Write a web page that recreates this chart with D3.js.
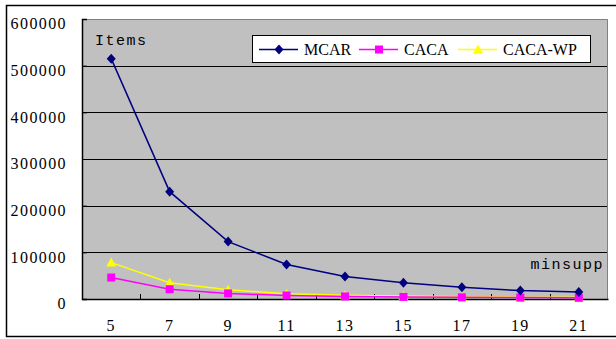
<!DOCTYPE html>
<html>
<head>
<meta charset="utf-8">
<script src="https://cdn.jsdelivr.net/npm/d3@7"></script>
<style>
  body { margin: 0; background: #fff; }
</style>
</head>
<body>
<div id="chart"></div>
<script>
// chart data
const minsupp = ['5', '7', '9', '11', '13', '15', '17', '19', '21'];
const mcar = [515000, 230000, 123000, 74000, 48000, 35000, 25000, 18000, 15000];
const caca = [46000, 21000, 12000, 7500, 5500, 4500, 3500, 3000, 2500];
const cacaWp = [78000, 35000, 20000, 11000, 8000, 6500, 5000, 4000, 3500];
const yTicks = [0, 100000, 200000, 300000, 400000, 500000, 600000];

const SERIES = [
  { name: 'MCAR', values: mcar, color: '#000080', marker: 'diamond' },
  { name: 'CACA', values: caca, color: '#FF00FF', marker: 'square' },
  { name: 'CACA-WP', values: cacaWp, color: '#FFFF00', marker: 'triangle' },
];

const W = 616, H = 339;
const MARGIN = { top: 19, right: 8, bottom: 40, left: 82 };
const innerW = W - MARGIN.left - MARGIN.right;
const innerH = H - MARGIN.top - MARGIN.bottom;
const FONT = '16px';
const FAMILY = '"Liberation Serif", "Times New Roman", serif';
const MONO = '"Liberation Mono", "Courier New", monospace';

const svg = d3.select('#chart').append('svg')
  .attr('width', W).attr('height', H).style('display', 'block')
  .attr('font-family', FAMILY);

// outer frame (right edge falls outside the picture)
svg.append('rect')
  .attr('x', 6.5).attr('y', 5.5).attr('width', 620).attr('height', 331)
  .attr('fill', '#fff').attr('stroke', '#000').attr('stroke-width', 1.5);

const g = svg.append('g').attr('transform', `translate(${MARGIN.left},${MARGIN.top})`);

const x = d3.scaleBand().domain(minsupp).range([0, innerW]).padding(0);
const y = d3.scaleLinear().domain([0, 600000]).range([innerH, 0]);
const cx = d => x(d) + x.bandwidth() / 2;

g.append('rect').attr('width', innerW).attr('height', innerH).attr('fill', '#C0C0C0');

// gridlines
g.append('g').selectAll('line').data(yTicks.slice(1, -1)).join('line')
  .attr('x1', 0).attr('x2', innerW)
  .attr('y1', d => Math.round(y(d)) + 0.5).attr('y2', d => Math.round(y(d)) + 0.5)
  .attr('stroke', '#000').attr('stroke-width', 1);

// top/right plot border
g.append('path')
  .attr('d', `M0,0.5H${innerW - 0.5}V${innerH}`)
  .attr('fill', 'none').attr('stroke', '#808080');

// y axis
const yAxis = g.append('g')
  .call(d3.axisLeft(y).tickValues(yTicks).tickSize(-5).tickPadding(15).tickFormat(d3.format('d')));
yAxis.attr('font-family', FAMILY);
yAxis.select('.domain').attr('stroke', '#000').attr('stroke-width', 1.5);
yAxis.selectAll('text').attr('font-size', FONT).attr('fill', '#000')
  .attr('letter-spacing', '1.4px').attr('dy', '0.62em');
yAxis.selectAll('.tick line').attr('stroke', '#000');

// x axis: labels at band centres, ticks at band boundaries
const xAxis = g.append('g').attr('transform', `translate(0,${innerH})`)
  .call(d3.axisBottom(x).tickSize(0).tickPadding(21));
xAxis.attr('font-family', FAMILY);
xAxis.select('.domain').attr('stroke', '#000').attr('stroke-width', 1.5);
xAxis.selectAll('text').attr('font-size', FONT).attr('fill', '#000').attr('letter-spacing', '1.4px');
g.append('g').selectAll('line').data(minsupp.slice(1)).join('line')
  .attr('x1', d => Math.round(x(d)) + 0.5).attr('x2', d => Math.round(x(d)) + 0.5)
  .attr('y1', innerH).attr('y2', innerH - 5)
  .attr('stroke', '#000');

// axis titles inside the plot
g.append('text').attr('x', 13).attr('y', 26).attr('font-family', MONO)
  .attr('font-size', '15px').attr('letter-spacing', '1.5px').text('Items');
g.append('text').attr('x', innerW - 4).attr('y', 250).attr('text-anchor', 'end')
  .attr('font-family', MONO).attr('font-size', '15px').attr('letter-spacing', '1.5px').text('minsupp');

function marker(sel, type, color) {
  if (type === 'diamond') {
    sel.append('path').attr('d', 'M0,-5L4.5,0L0,5L-4.5,0Z').attr('fill', color);
  } else if (type === 'square') {
    sel.append('rect').attr('x', -4).attr('y', -4).attr('width', 8).attr('height', 8).attr('fill', color);
  } else {
    sel.append('path').attr('d', 'M0,-5L5,4L-5,4Z').attr('fill', color);
  }
}

const line = d3.line().x((d, i) => cx(minsupp[i])).y(d => y(d));

// draw CACA-WP first so MCAR sits on top like the original
[SERIES[2], SERIES[1], SERIES[0]].forEach(s => {
  g.append('path').attr('d', line(s.values))
    .attr('fill', 'none').attr('stroke', s.color).attr('stroke-width', 1.5);
  s.values.forEach((v, i) => {
    const m = g.append('g').attr('transform', `translate(${cx(minsupp[i])},${y(v)})`);
    marker(m, s.marker, s.color);
  });
});

// legend
const lg = svg.append('g').attr('transform', 'translate(252,35)');
lg.append('rect').attr('x', 0.5).attr('y', 0.5).attr('width', 338).attr('height', 27)
  .attr('fill', '#fff').attr('stroke', '#000');
const legendX = [7, 107, 206];
SERIES.forEach((s, i) => {
  const it = lg.append('g').attr('transform', `translate(${legendX[i]},14)`);
  it.append('line').attr('x1', 0).attr('x2', 39).attr('y1', 0.5).attr('y2', 0.5)
    .attr('stroke', s.color).attr('stroke-width', 1.5);
  const m = it.append('g').attr('transform', 'translate(20,0.5)');
  marker(m, s.marker, s.color);
  it.append('text').attr('x', 45).attr('y', 6).attr('font-size', FONT).text(s.name);
});
</script>
</body>
</html>
